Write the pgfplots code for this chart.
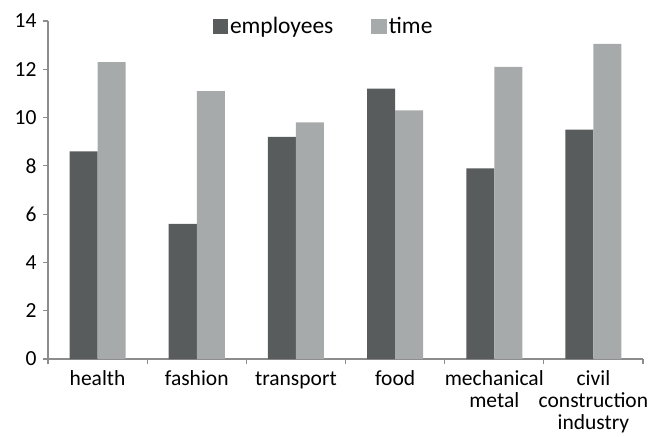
\documentclass[border=0pt]{standalone}
\usepackage{pgfplots}
\pgfplotsset{compat=1.18}
\usepackage{fontspec}
\setmainfont{Carlito}
\definecolor{darkbar}{HTML}{595C5C}
\definecolor{lightbar}{HTML}{A7AAAA}
\definecolor{axisgray}{HTML}{8C8C8C}
\begin{document}
\begin{tikzpicture}
\begin{axis}[
  scale only axis,
  width=595pt, height=338pt,
  ybar=0pt, bar width=28pt,
  xmin=-0.5, xmax=5.5,
  ymin=0, ymax=14,
  ytick={0,2,...,14},
  xtick={0,...,5},
  xticklabels={\strut health,\strut fashion,\strut transport,\strut food,{\strut mechanical\\metal},{\strut civil\\construction\\industry}},
  minor xtick={-0.5,0.5,...,5.5},
  major x tick style={draw=none},
  axis lines*=left,
  axis line style={axisgray, line width=1.3pt},
  tick style={axisgray, line width=1.2pt},
  tick align=outside,
  major tick length=5pt, minor tick length=5pt,
  /pgf/number format/assume math mode=true,
  tick label style={font=\fontsize{21.5}{22.3}\selectfont, text=black},
  xticklabel style={align=center, yshift=-2pt},
  yticklabel style={xshift=-3pt},
  legend style={draw=none, fill=none, at={(0.463,0.985)}, anchor=center,
    legend columns=2, font=\fontsize{23.5}{24}\selectfont,
    /tikz/every even column/.style={column sep=36pt}},
  legend image code/.code={\fill[#1] (0pt,-7.5pt) rectangle (15.5pt,7.5pt);},
  clip=false,
]
\addplot[fill=darkbar, draw=none] coordinates {(0,8.6) (1,5.6) (2,9.2) (3,11.2) (4,7.9) (5,9.5)};
\addplot[fill=lightbar, draw=none] coordinates {(0,12.3) (1,11.1) (2,9.8) (3,10.3) (4,12.1) (5,13.05)};
\legend{employees,time}
\path ([xshift=-48pt,yshift=-74pt]rel axis cs:0,0) rectangle ([xshift=9pt,yshift=21pt]rel axis cs:1,1);
\end{axis}
\end{tikzpicture}
\end{document}
